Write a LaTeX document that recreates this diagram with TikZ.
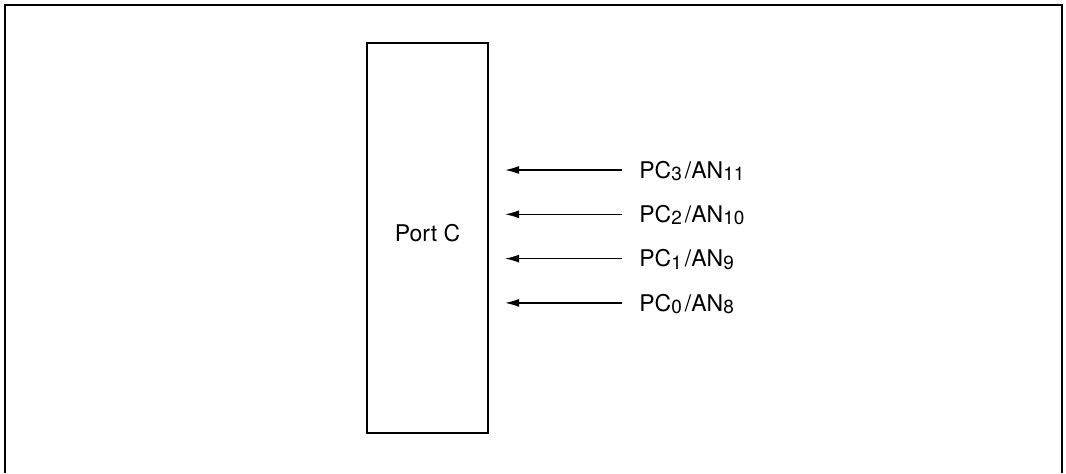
\documentclass[tikz,border=0pt]{standalone}
\usepackage{fontspec}
\setmainfont{TeX Gyre Heros}
\usetikzlibrary{arrows.meta,positioning}
\newcommand{\pinsub}[1]{\raisebox{-1.2pt}{\fontsize{9.5pt}{11pt}\selectfont #1}}
\tikzset{
  frame/.style={line width=1.1pt},
  portbox/.style={draw,line width=1.1pt,minimum width=60.5pt,minimum height=195pt,inner sep=0pt},
  pinlabel/.style={inner sep=0pt,text height=8.25pt,text depth=0pt,font=\fontsize{11.5pt}{13pt}\selectfont},
  pin arrow/.style={-{Latex[length=7pt,width=4pt]},line width=0.6pt,shorten <=8.5pt,shorten >=8pt}
}
\begin{document}
\begin{tikzpicture}[x=0.5pt,y=-0.5pt]
\useasboundingbox (0,0) rectangle (1066,473);
\draw[frame] (5,473) -- (5,5) -- (1062,5) -- (1062,473);
\node[portbox] (port) at (427.5,238) {};
\node[font=\fontsize{11.5pt}{13pt}\selectfont,inner sep=0pt] (portname) at (427.5,233.5) {Port C};
\node[pinlabel,anchor=west] (pc3) at (639,170) {PC\pinsub{3}\kern1.5pt/AN\pinsub{11}};
\node[pinlabel,below=13.5pt of pc3.south west,anchor=north west] (pc2) {PC\pinsub{2}\kern1.5pt/AN\pinsub{10}};
\node[pinlabel,below=13.5pt of pc2.south west,anchor=north west] (pc1) {PC\pinsub{1}\kern1.5pt/AN\pinsub{9}};
\node[pinlabel,below=13.5pt of pc1.south west,anchor=north west] (pc0) {PC\pinsub{0}\kern1.5pt/AN\pinsub{8}};
\draw[pin arrow] (pc3.west) -- (pc3.west -| port.east);
\draw[pin arrow] (pc2.west) -- (pc2.west -| port.east);
\draw[pin arrow] (pc1.west) -- (pc1.west -| port.east);
\draw[pin arrow] (pc0.west) -- (pc0.west -| port.east);
\end{tikzpicture}
\end{document}
